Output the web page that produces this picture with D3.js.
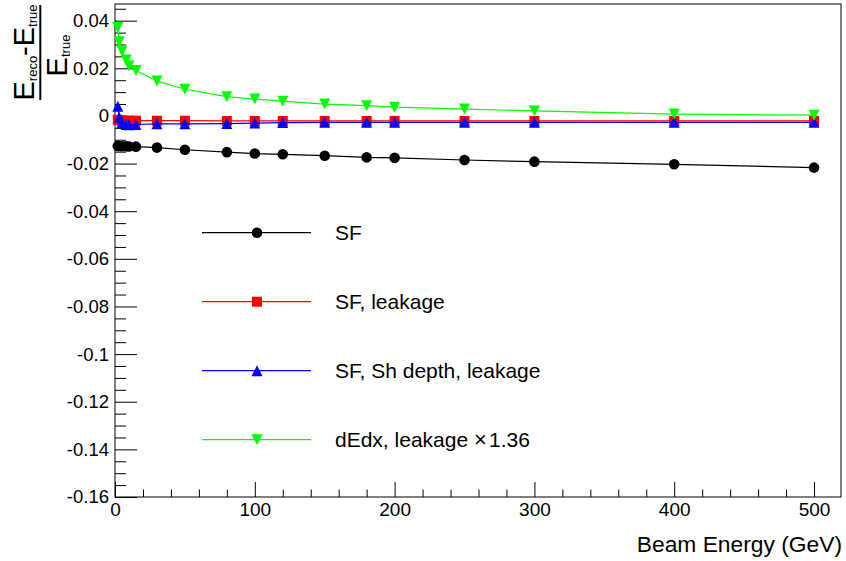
<!DOCTYPE html>
<html>
<head>
<meta charset="utf-8">
<script src="https://cdn.jsdelivr.net/npm/d3@7"></script>
<style>
  body { margin: 0; background: #fff; }
  svg { display: block; font-family: "Liberation Sans", Arial, sans-serif; }
</style>
</head>
<body>
<script>
// beam energies (GeV)
const energies = [2, 3, 5, 8, 10, 15, 30, 50, 80, 100, 120, 150, 180, 200, 250, 300, 400, 500]

// (E_reco - E_true) / E_true for each method
const sf = [-0.0126, -0.0126, -0.0127, -0.0127, -0.0128, -0.0129, -0.0133, -0.0142, -0.0152, -0.0158, -0.0161, -0.0167, -0.0174, -0.0176, -0.0185, -0.0192, -0.0203, -0.0217]
const sfLeak = [-0.0016, -0.0018, -0.0019, -0.0020, -0.0020, -0.0020, -0.0020, -0.0020, -0.0021, -0.0021, -0.0021, -0.0021, -0.0021, -0.0021, -0.0021, -0.0021, -0.0021, -0.0021]
const sfDepthLeak = [0.0041, -0.0005, -0.0028, -0.0036, -0.0037, -0.0036, -0.0033, -0.0033, -0.0032, -0.0030, -0.0028, -0.0027, -0.0027, -0.0027, -0.0027, -0.0027, -0.0027, -0.0027]
const dedxLeak = [0.0371, 0.0312, 0.0272, 0.0235, 0.0210, 0.0191, 0.0147, 0.0112, 0.0081, 0.0071, 0.0062, 0.0050, 0.0043, 0.0037, 0.0029, 0.0021, 0.0008, 0.0003]

const seriesNames = ["SF", "SF, leakage", "SF, Sh depth, leakage", "dEdx, leakage"]

const xTicks = [0, 100, 200, 300, 400, 500]
const yTicks = [-0.16, -0.14, -0.12, -0.1, -0.08, -0.06, -0.04, -0.02, 0, 0.02, 0.04]

const W = 846, H = 561
const frame = {left: 115, right: 841, top: 4, bottom: 497}

const svg = d3.select("body").append("svg")
    .attr("width", W)
    .attr("height", H)

const x = d3.scaleLinear().domain([0, 519.3]).range([frame.left, frame.right])
const y = d3.scaleLinear().domain([-0.16, 0.047]).range([frame.bottom, frame.top])

// ROOT style markers
const triUp = {draw(ctx, size) {
    const r = Math.sqrt(size) / 2
    ctx.moveTo(0, -r); ctx.lineTo(r, r); ctx.lineTo(-r, r); ctx.closePath()
}}
const triDown = {draw(ctx, size) {
    const r = Math.sqrt(size) / 2
    ctx.moveTo(0, r); ctx.lineTo(r, -r); ctx.lineTo(-r, -r); ctx.closePath()
}}

const series = [
    {name: seriesNames[0], vals: sf, color: "#000000", sym: d3.symbolCircle, size: 88},
    {name: seriesNames[1], vals: sfLeak, color: "#ff0000", sym: d3.symbolSquare, size: 100},
    {name: seriesNames[2], vals: sfDepthLeak, color: "#0000ff", sym: triUp, size: 121},
    {name: seriesNames[3], vals: dedxLeak, color: "#00ff00", sym: triDown, size: 121, scale: "1.36"}
]

// axes: minor ticks first
const xMinor = d3.range(20, 519, 20).filter(d => d % 100 !== 0)
const yMinor = d3.range(-155, 47, 5).map(d => d / 1000).filter(d => Math.round(d * 1000) % 20 !== 0)

svg.append("g")
    .attr("transform", `translate(0,${frame.bottom})`)
    .call(d3.axisBottom(x).tickValues(xMinor).tickSizeInner(-7.5).tickSizeOuter(0).tickFormat(""))
    .call(g => g.select(".domain").remove())

svg.append("g")
    .attr("transform", `translate(${frame.left},0)`)
    .call(d3.axisLeft(y).tickValues(yMinor).tickSizeInner(-11).tickSizeOuter(0).tickFormat(""))
    .call(g => g.select(".domain").remove())

svg.append("g")
    .attr("transform", `translate(0,${frame.bottom})`)
    .call(d3.axisBottom(x).tickValues(xTicks).tickSizeInner(-15).tickSizeOuter(0).tickPadding(6)
        .tickFormat(d => String(d)))
    .call(g => g.select(".domain").remove())
    .call(g => g.selectAll("text").attr("font-size", 19).attr("fill", "#000").attr("font-family", "Liberation Sans, Arial, sans-serif"))

svg.append("g")
    .attr("transform", `translate(${frame.left},0)`)
    .call(d3.axisLeft(y).tickValues(yTicks).tickSizeInner(-22).tickSizeOuter(0).tickPadding(6)
        .tickFormat(d => String(d)))
    .call(g => g.select(".domain").remove())
    .call(g => g.selectAll("text").attr("font-size", 18.5).attr("fill", "#000").attr("font-family", "Liberation Sans, Arial, sans-serif"))

// frame
svg.append("rect")
    .attr("x", frame.left).attr("y", frame.top)
    .attr("width", frame.right - frame.left).attr("height", frame.bottom - frame.top)
    .attr("fill", "none").attr("stroke", "#000").attr("stroke-width", 1)

// graphs
const line = d3.line().x(d => x(d[0])).y(d => y(d[1]))
series.forEach(s => {
    const pts = energies.map((e, i) => [e, s.vals[i]])
    const g = svg.append("g")
    g.append("path")
        .attr("d", line(pts))
        .attr("fill", "none")
        .attr("stroke", s.color)
        .attr("stroke-width", 1.2)
    g.selectAll("path.mk")
        .data(pts)
        .enter()
        .append("path")
        .attr("class", "mk")
        .attr("transform", d => `translate(${x(d[0])},${y(d[1])})`)
        .attr("d", d3.symbol(s.sym, s.size))
        .attr("fill", s.color)
})

// legend
const leg = svg.append("g")
series.forEach((s, i) => {
    const ly = 232.7 + i * 69
    leg.append("line")
        .attr("x1", 202).attr("x2", 311)
        .attr("y1", ly).attr("y2", ly)
        .attr("stroke", s.color).attr("stroke-width", 1.2)
    leg.append("path")
        .attr("transform", `translate(257,${ly})`)
        .attr("d", d3.symbol(s.sym, s.size))
        .attr("fill", s.color)
    const t = leg.append("text")
        .attr("x", 335).attr("y", ly)
        .attr("dy", "0.36em")
        .attr("font-size", 21)
        .text(s.name)
    if (s.scale) {
        t.append("tspan").attr("dx", 6).attr("font-size", 22).text("\u00d7")
        t.append("tspan").attr("dx", 2).text(s.scale)
    }
})

// x title
svg.append("text")
    .attr("x", 842).attr("y", 552)
    .attr("text-anchor", "end")
    .attr("font-size", 22.8)
    .text("Beam Energy (GeV)")

// y title: (E_reco - E_true) / E_true
const num = svg.append("text")
    .attr("transform", "translate(33.5,52.5) rotate(-90)")
    .attr("text-anchor", "middle")
    .attr("font-size", 29)
num.append("tspan").text("E")
num.append("tspan").attr("font-size", 13).attr("dy", 3).text("reco")
num.append("tspan").attr("dy", -3).text("-E")
num.append("tspan").attr("font-size", 13).attr("dy", 3).text("true")

svg.append("line")
    .attr("x1", 40.3).attr("x2", 40.3)
    .attr("y1", 5).attr("y2", 100)
    .attr("stroke", "#000").attr("stroke-width", 2)

const den = svg.append("text")
    .attr("transform", "translate(67,55.5) rotate(-90)")
    .attr("text-anchor", "middle")
    .attr("font-size", 29)
den.append("tspan").text("E")
den.append("tspan").attr("font-size", 13).attr("dy", 3).text("true")
</script>
</body>
</html>
